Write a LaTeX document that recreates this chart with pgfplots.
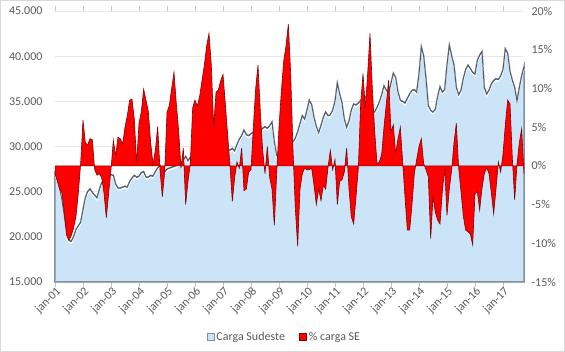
\documentclass[border=0pt]{standalone}
\usepackage{pgfplots}
\pgfplotsset{compat=1.18}
\usepackage{pgfplotstable}
\usepackage{fontspec}
\setmainfont{Carlito}
\definecolor{bluefill}{RGB}{204,228,248}
\definecolor{blueedge}{RGB}{78,92,108}
\definecolor{framegray}{RGB}{130,142,156}
\definecolor{redfill}{RGB}{255,0,0}
\definecolor{rededge}{RGB}{130,0,0}
\definecolor{labelgray}{RGB}{89,89,89}
\definecolor{gridgray}{RGB}{232,232,232}
\definecolor{bordergray}{RGB}{217,217,217}

\pgfplotstableread[row sep=\\]{
x y\\
0 15\\
0 27.0\\ 1 26.5\\ 2 25.3\\ 3 24.0\\ 4 22.3\\ 5 20.3\\ 6 19.6\\ 7 19.5\\ 8 20.0\\ 9 20.8\\ 10 21.2\\ 11 21.6\\
12 23.0\\ 13 24.3\\ 14 25.0\\ 15 25.3\\ 16 24.9\\ 17 24.6\\ 18 24.3\\ 19 25.2\\ 20 26.0\\ 21 26.2\\ 22 26.4\\ 23 26.7\\
24 26.9\\ 25 26.8\\ 26 25.8\\ 27 25.4\\ 28 25.4\\ 29 25.5\\ 30 25.6\\ 31 25.5\\ 32 26.1\\ 33 26.5\\ 34 26.8\\ 35 26.6\\
36 26.7\\ 37 27.1\\ 38 27.2\\ 39 26.6\\ 40 26.6\\ 41 26.8\\ 42 26.7\\ 43 27.2\\ 44 27.6\\ 45 27.9\\ 46 27.5\\ 47 27.2\\
48 27.5\\ 49 27.6\\ 50 27.7\\ 51 27.8\\ 52 27.9\\ 53 28.0\\ 54 28.2\\ 55 28.5\\ 56 28.9\\ 57 28.4\\ 58 28.8\\ 59 29.0\\
60 29.0\\ 61 29.2\\ 62 29.5\\ 63 29.3\\ 64 29.0\\ 65 29.2\\ 66 29.5\\ 67 29.8\\ 68 29.6\\ 69 29.3\\ 70 29.5\\ 71 29.7\\
72 30.0\\ 73 29.8\\ 74 29.6\\ 75 29.6\\ 76 29.8\\ 77 29.5\\ 78 30.2\\ 79 30.8\\ 80 31.2\\ 81 31.8\\ 82 31.3\\ 83 31.2\\
84 31.4\\ 85 31.6\\ 86 31.5\\ 87 31.7\\ 88 31.8\\ 89 32.0\\ 90 32.2\\ 91 32.0\\ 92 32.3\\ 93 32.7\\ 94 30.5\\ 95 29.0\\
96 29.0\\ 97 29.5\\ 98 29.8\\ 99 30.0\\ 100 30.2\\ 101 30.4\\ 102 30.5\\ 103 30.9\\ 104 31.6\\ 105 32.5\\ 106 33.4\\ 107 33.0\\
108 34.0\\ 109 35.1\\ 110 34.6\\ 111 33.2\\ 112 32.2\\ 113 31.5\\ 114 32.3\\ 115 33.2\\ 116 33.8\\ 117 33.4\\ 118 33.5\\ 119 34.0\\
120 35.0\\ 121 37.0\\ 122 35.8\\ 123 34.8\\ 124 33.0\\ 125 32.1\\ 126 32.8\\ 127 34.0\\ 128 34.7\\ 129 34.6\\ 130 34.8\\ 131 35.1\\
132 35.3\\ 133 35.5\\ 134 35.0\\ 135 34.3\\ 136 33.9\\ 137 33.8\\ 138 34.3\\ 139 34.9\\ 140 35.7\\ 141 36.7\\ 142 36.2\\ 143 35.9\\
144 37.0\\ 145 38.1\\ 146 37.6\\ 147 36.0\\ 148 35.1\\ 149 35.0\\ 150 34.8\\ 151 35.3\\ 152 35.8\\ 153 36.2\\ 154 36.3\\ 155 36.0\\
156 38.0\\ 157 41.0\\ 158 40.0\\ 159 37.5\\ 160 34.5\\ 161 34.0\\ 162 33.8\\ 163 34.1\\ 164 35.5\\ 165 36.6\\ 166 36.0\\ 167 36.3\\
168 39.0\\ 169 41.2\\ 170 40.0\\ 171 39.0\\ 172 36.5\\ 173 35.7\\ 174 36.2\\ 175 37.5\\ 176 38.5\\ 177 39.0\\ 178 38.6\\ 179 38.2\\
180 38.0\\ 181 39.5\\ 182 40.1\\ 183 40.5\\ 184 36.5\\ 185 35.8\\ 186 36.2\\ 187 36.9\\ 188 37.3\\ 189 37.5\\ 190 37.4\\ 191 37.8\\
192 38.5\\ 193 40.8\\ 194 40.3\\ 195 38.3\\ 196 37.3\\ 197 36.5\\ 198 35.0\\ 199 36.5\\ 200 37.8\\ 201 38.8\\
201 15\\
}\bluedata

\pgfplotstableread[row sep=\\]{
r\\
-1.0\\ -2.0\\ -3.0\\ -3.5\\ -6.0\\ -9.0\\ -9.6\\ -9.0\\ -8.0\\ -6.5\\ -3.5\\ 0.3\\
5.9\\ 3.0\\ 2.7\\ 3.5\\ 3.4\\ -0.5\\ -1.2\\ -1.0\\ -1.5\\ -3.5\\ -6.7\\ -3.5\\
-0.5\\ 3.3\\ 1.3\\ 3.7\\ 3.5\\ 2.8\\ 5.0\\ 6.5\\ 8.5\\ 8.6\\ 6.0\\ 0.3\\
5.5\\ 7.0\\ 9.9\\ 8.5\\ 7.0\\ 3.0\\ 0.2\\ 2.0\\ 5.1\\ -0.5\\ -4.0\\ -0.8\\
6.9\\ 7.8\\ 10.0\\ 12.1\\ 8.0\\ 4.5\\ -0.3\\ 2.3\\ -5.0\\ -2.0\\ 0.3\\ 7.5\\
8.5\\ 7.7\\ 9.0\\ 11.0\\ 13.0\\ 15.5\\ 17.1\\ 13.0\\ 5.0\\ 9.5\\ 9.8\\ 11.0\\
11.8\\ 8.0\\ 4.0\\ 0.0\\ -4.6\\ -1.5\\ 0.5\\ -0.3\\ 2.3\\ -3.2\\ -3.0\\ -0.8\\
-0.5\\ 5.0\\ 10.0\\ 13.0\\ 7.0\\ 2.0\\ -1.0\\ 2.5\\ -1.5\\ -3.0\\ -7.7\\ -1.0\\
5.0\\ 9.6\\ 13.5\\ 15.5\\ 18.3\\ 12.0\\ 2.0\\ -5.5\\ -10.4\\ -3.0\\ -1.0\\ -0.3\\
-0.5\\ -0.5\\ -0.3\\ -2.5\\ -5.0\\ -3.0\\ -4.5\\ -2.5\\ -3.0\\ -0.2\\ 2.0\\ -0.5\\
0.8\\ -5.0\\ -2.0\\ -1.8\\ -0.8\\ 2.3\\ -3.0\\ -6.6\\ -7.5\\ -4.0\\ -0.3\\ 8.0\\
11.9\\ 7.5\\ 11.9\\ 17.1\\ 10.0\\ 4.5\\ 0.3\\ 0.5\\ 1.5\\ 5.0\\ 8.0\\ 11.1\\
4.4\\ 5.3\\ 1.5\\ 3.5\\ 5.0\\ 0.5\\ -4.0\\ -8.3\\ -8.3\\ -5.0\\ -1.0\\ 0.8\\
2.5\\ 3.5\\ 0.3\\ -0.5\\ -1.4\\ -9.4\\ -4.0\\ -6.0\\ -7.0\\ -7.5\\ -3.3\\ -0.3\\
-6.4\\ -3.0\\ -0.5\\ 3.0\\ 5.5\\ -0.3\\ -3.3\\ -6.5\\ -8.3\\ -8.5\\ -8.8\\ -10.2\\
-3.6\\ -3.3\\ -5.7\\ -2.9\\ -1.0\\ -0.2\\ -1.0\\ -3.5\\ -6.2\\ -3.0\\ 0.5\\ -0.8\\
1.5\\ 5.3\\ 8.5\\ 8.0\\ 1.0\\ -4.4\\ 0.2\\ 3.0\\ 4.8\\ -1.0\\
}\reddata

\begin{document}
\begin{tikzpicture}[font=\fontsize{12}{14}\selectfont]
\begin{axis}[
  at={(0pt,0pt)}, anchor=south west, scale only axis,
  width=469pt, height=271pt,
  xmin=0, xmax=201, ymin=15, ymax=45,
  clip=false,
  axis line style={draw=none},
  xtick={0,12,...,192},
  xticklabels={jan-01,jan-02,jan-03,jan-04,jan-05,jan-06,jan-07,jan-08,jan-09,jan-10,jan-11,jan-12,jan-13,jan-14,jan-15,jan-16,jan-17},
  xtick style={draw=gray!45, line width=0.6pt},
  tick align=outside, major tick length=5pt,
  ytick={15,20,...,45},
  yticklabels={15.000,20.000,25.000,30.000,35.000,40.000,45.000},
  ytick style={draw=none},
  ymajorgrids, grid style={gridgray, line width=0.6pt},
  tick label style={text=labelgray},
  xticklabel style={rotate=45, anchor=east, inner sep=1pt, xshift=2pt, yshift=-5pt},
  yticklabel style={xshift=-4pt},
]
\addplot[fill=bluefill, draw=framegray, line width=1.5pt, forget plot] table[x=x, y=y] {\bluedata} -- cycle;
\addplot[white, line width=1.3pt, yshift=-1.8pt, restrict y to domain=15.5:50, forget plot] table[x=x, y=y] {\bluedata};
\addplot[blueedge, line width=1pt, restrict y to domain=15.5:50, forget plot] table[x=x, y=y] {\bluedata};
\end{axis}
\begin{axis}[
  at={(0pt,0pt)}, anchor=south west, scale only axis,
  width=469pt, height=271pt,
  xmin=0, xmax=201, ymin=-15, ymax=20,
  axis line style={draw=none},
  xtick=\empty,
  ytick={-15,-10,...,20},
  yticklabels={-15\%,-10\%,-5\%,0\%,5\%,10\%,15\%,20\%},
  yticklabel pos=right,
  ytick style={draw=none},
  tick label style={text=labelgray},
  yticklabel style={xshift=4pt},
  legend image code/.code={\draw[#1, line width=0.8pt] (0pt,-3.5pt) rectangle (7pt,3.5pt);},
  legend style={at={(0.489,-0.203)}, anchor=center, draw=none, fill=none,
    legend columns=2, text=labelgray,
    /tikz/every even column/.append style={column sep=12pt}},
  legend cell align=left,
]
\addlegendimage{fill=bluefill, draw=framegray}
\addlegendentry{Carga Sudeste}
\addplot[fill=redfill, draw=rededge, line width=0.6pt] table[x expr=\coordindex, y=r] {\reddata} \closedcycle;
\addlegendentry{\% carga SE}
\end{axis}
\draw[bordergray, line width=0.8pt] (-54.6pt,-69.6pt) rectangle (509.6pt,281.6pt);
\end{tikzpicture}
\end{document}
